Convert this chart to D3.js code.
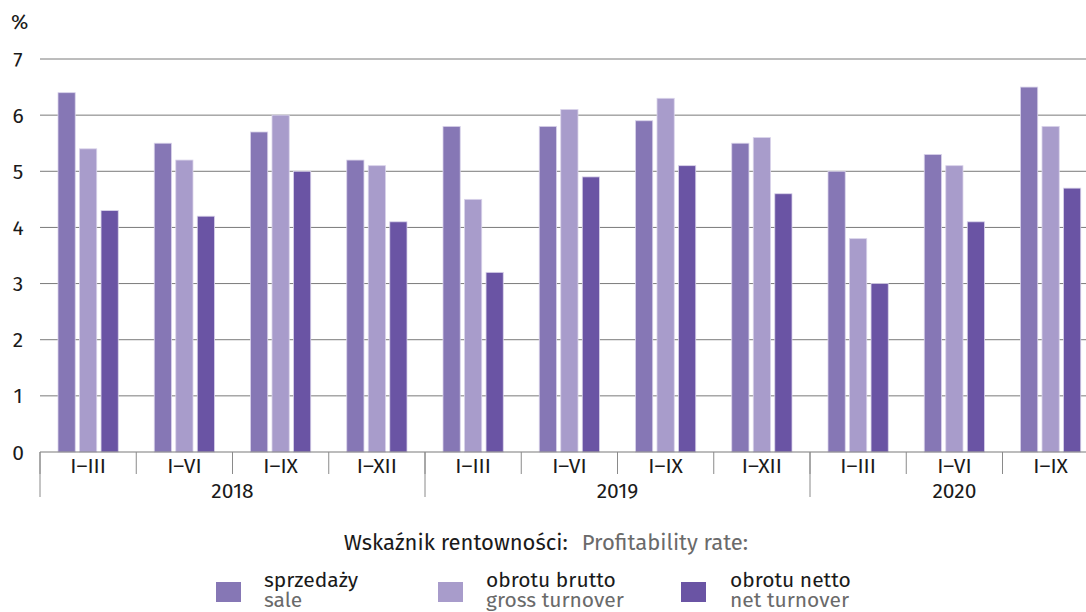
<html>
<script src='https://cdn.jsdelivr.net/npm/d3@7'></script>
<body style="margin:0;background:#fff;">
<svg id="chart" width="1086" height="612"></svg>
<script>
// data
const periods = ["I–III", "I–VI", "I–IX", "I–XII", "I–III", "I–VI", "I–IX", "I–XII", "I–III", "I–VI", "I–IX"];
const years = ["2018", "2019", "2020"];
const yearSpans = [4, 4, 3];
const sale = [6.4, 5.5, 5.7, 5.2, 5.8, 5.8, 5.9, 5.5, 5.0, 5.3, 6.5];
const gross = [5.4, 5.2, 6.0, 5.1, 4.5, 6.1, 6.3, 5.6, 3.8, 5.1, 5.8];
const net = [4.3, 4.2, 5.0, 4.1, 3.2, 4.9, 5.1, 4.6, 3.0, 4.1, 4.7];
const yTicks = [0, 1, 2, 3, 4, 5, 6, 7];
const seriesNames = ["sprzedaży", "obrotu brutto", "obrotu netto"];
const seriesNamesEn = ["sale", "gross turnover", "net turnover"];
const colors = ["#8677b5", "#a89ccb", "#6a54a4"];

const font = "'Fira Sans', Roboto, 'Noto Sans', sans-serif";
const svg = d3.select("#chart").style("font-family", font);

const plotLeft = 40, plotTop = 59, plotBottom = 452;
const step = 96.25;
const plotRight = plotLeft + step * periods.length;
const fs = 21;

const x = d3.scaleBand()
    .domain(d3.range(periods.length))
    .range([plotLeft, plotRight])
    .paddingInner(0)
    .paddingOuter(0);

const inner = d3.scaleBand()
    .domain([0, 1, 2])
    .range([18, step - 18])
    .paddingInner(0.2);

const y = d3.scaleLinear().domain([0, 7]).range([plotBottom, plotTop]);

// gridlines
svg.append("g").selectAll("line")
    .data(yTicks.filter(d => d > 0))
    .enter().append("line")
    .attr("x1", plotLeft).attr("x2", 1086)
    .attr("y1", d => y(d)).attr("y2", d => y(d))
    .attr("stroke", "#7a7a7a").attr("stroke-width", 1);

// y tick labels
svg.append("g").selectAll("text")
    .data(yTicks)
    .enter().append("text")
    .attr("x", 18).attr("y", d => y(d) + 7.5)
    .attr("text-anchor", "middle")
    .attr("font-size", fs).attr("fill", "#1a1a1a")
    .text(d => d);

svg.append("text").attr("x", 11).attr("y", 29)
    .attr("font-size", fs).attr("fill", "#1a1a1a").text("%");

// bars
const rows = periods.map((p, i) => [sale[i], gross[i], net[i]]);
svg.append("g").selectAll("g")
    .data(rows)
    .enter().append("g")
    .attr("transform", (d, i) => `translate(${x(i)},0)`)
    .selectAll("rect")
    .data(d => d)
    .enter().append("rect")
    .attr("x", (d, j) => inner(j))
    .attr("width", inner.bandwidth())
    .attr("y", d => y(d))
    .attr("height", d => plotBottom - y(d))
    .attr("fill", (d, j) => colors[j])
    .attr("stroke", "#d9d3ea").attr("stroke-width", 0.8);

// baseline
svg.append("line").attr("x1", plotLeft).attr("x2", 1086)
    .attr("y1", plotBottom).attr("y2", plotBottom)
    .attr("stroke", "#7a7a7a").attr("stroke-width", 1.2);

// category separators and labels
const axis = svg.append("g");
d3.range(periods.length + 1).forEach(i => {
    const xx = plotLeft + i * step;
    axis.append("line").attr("x1", xx).attr("x2", xx)
        .attr("y1", plotBottom).attr("y2", plotBottom + 22)
        .attr("stroke", "#8a8a8a");
});
axis.selectAll("text.cat")
    .data(periods)
    .enter().append("text").attr("class", "cat")
    .attr("x", (d, i) => x(i) + step / 2)
    .attr("y", plotBottom + 21)
    .attr("text-anchor", "middle")
    .attr("font-size", fs).attr("fill", "#1a1a1a")
    .text(d => d);

// year groups
let acc = 0;
years.forEach((yr, k) => {
    const x0 = plotLeft + acc * step;
    const x1 = plotLeft + (acc + yearSpans[k]) * step;
    axis.append("line").attr("x1", x0).attr("x2", x0)
        .attr("y1", plotBottom).attr("y2", plotBottom + 45)
        .attr("stroke", "#8a8a8a");
    axis.append("text")
        .attr("x", (x0 + x1) / 2).attr("y", plotBottom + 46)
        .attr("text-anchor", "middle")
        .attr("font-size", fs).attr("fill", "#1a1a1a")
        .text(yr);
    acc += yearSpans[k];
});

// legend
const leg = svg.append("g");
const title = leg.append("text").attr("x", 546).attr("y", 550)
    .attr("text-anchor", "middle").attr("font-size", 22);
title.append("tspan").attr("fill", "#1a1a1a").text("Wskaźnik rentowności:");
title.append("tspan").attr("fill", "#6a6a6a").attr("dx", 14).text("Profitability rate:");

const legX = [216, 438, 681];
const legTextX = [264, 486, 730];
seriesNames.forEach((n, i) => {
    leg.append("rect").attr("x", legX[i]).attr("y", 582)
        .attr("width", 25).attr("height", 20).attr("fill", colors[i]);
    leg.append("text").attr("x", legTextX[i]).attr("y", 587)
        .attr("font-size", 21).attr("fill", "#1a1a1a").text(n);
    leg.append("text").attr("x", legTextX[i]).attr("y", 607)
        .attr("font-size", 21).attr("fill", "#6a6a6a").text(seriesNamesEn[i]);
});
</script>
</body>
</html>
